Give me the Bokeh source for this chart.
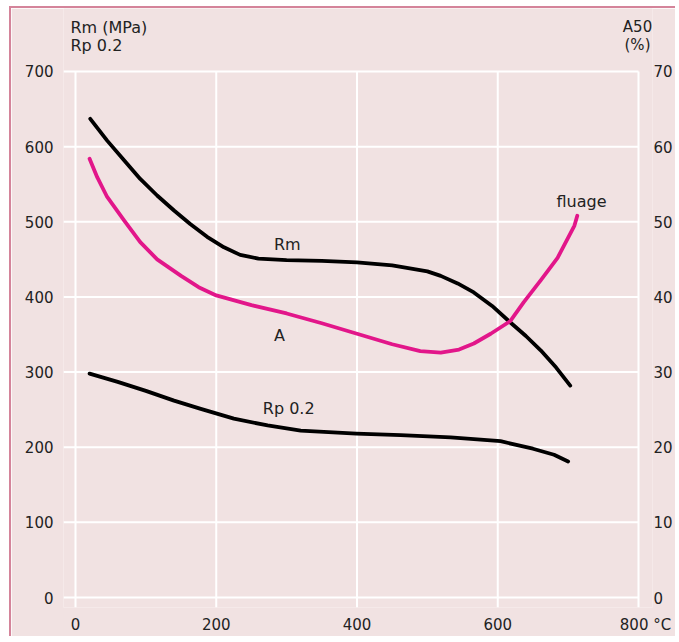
from bokeh.plotting import figure
from bokeh.models import Range1d, LinearAxis, ColumnDataSource, FixedTicker
from bokeh.core.properties import value
from bokeh.embed import file_html
from bokeh.resources import INLINE

# ---- data ----
rm_temp = [21, 45, 69, 92, 116, 140, 163, 187, 211, 234, 260, 300, 350, 400, 450, 500, 519, 543,
           566, 592, 618, 640, 661, 683, 703]
rm_mpa = [637, 608, 582, 557, 535, 515, 497, 480, 466, 456, 451, 449, 448, 446, 442, 434, 428, 418,
          406, 388, 366, 348, 329, 306, 282]

rp_temp = [20, 60, 100, 140, 178, 225, 273, 320, 399, 462, 533, 604, 650, 680, 700]
rp_mpa = [298, 287, 275, 262, 251, 238, 229, 222, 218, 216, 213, 208, 198, 190, 181]

a_temp = [20, 31, 45, 69, 92, 116, 150, 175, 200, 250, 300, 350, 400, 450, 490, 519, 545, 566,
          590, 618, 637, 661, 685, 709, 713]
a_pct = [58.4, 55.9, 53.3, 50.2, 47.3, 45.0, 42.8, 41.3, 40.2, 38.9, 37.8, 36.5, 35.1, 33.7, 32.8,
         32.6, 33.0, 33.8, 35.1, 36.8, 39.3, 42.2, 45.2, 49.5, 50.8]

x_ticks = [0, 200, 400, 600, 800]
x_tick_labels = ["0", "200", "400", "600", "800 °C"]
left_ticks = [0, 100, 200, 300, 400, 500, 600, 700]
right_ticks = [0, 10, 20, 30, 40, 50, 60, 70]

curve_label_text = ["Rm", "A", "Rp 0.2", "fluage"]
curve_label_x = [301, 290, 303, 719]
curve_label_y = [470, 349, 251, 527]

left_title_lines = ["Rm (MPa)", "Rp 0.2"]
right_title_lines = ["A50", "(%)"]

# ---- layout / styling ----
BG = "#f1e2e2"
FONT = "DejaVu Sans"
MAGENTA = "#e2168a"
TXT = "#222222"

PX_X = 0.70375   # px per °C
PX_Y = 0.75143   # px per MPa

X0, X1 = -12 / PX_X, 800 + 14 / PX_X
Y0, Y1 = -10 / PX_Y, 700 + 63 / PX_Y

p = figure(frame_width=589, frame_height=599, output_backend="svg", toolbar_location=None,
           x_range=Range1d(X0, X1), y_range=Range1d(Y0, Y1),
           min_border_left=52, min_border_right=19, min_border_top=0, min_border_bottom=20)
p.extra_y_ranges = {"A": Range1d(Y0 / 10.0, Y1 / 10.0)}

p.background_fill_color = BG
p.border_fill_color = BG
p.outline_line_color = None
p.xgrid.visible = False
p.ygrid.visible = False
p.styles = {"margin-left": "9px", "margin-top": "6px",
            "border-left": "2px solid #d4849a", "border-top": "2px solid #d4849a"}

def style_axis(ax, standoff):
    ax.axis_line_color = None
    ax.major_tick_line_color = None
    ax.minor_tick_line_color = None
    ax.major_tick_out = 0
    ax.major_tick_in = 0
    ax.minor_tick_out = 0
    ax.minor_tick_in = 0
    ax.major_label_text_font = FONT
    ax.major_label_text_font_size = "15px"
    ax.major_label_text_color = TXT
    ax.major_label_standoff = standoff

# x axis: the last label carries the unit and sits a little to the right of its gridline
label_shift = 7 / PX_X
x_label_pos = x_ticks[:-1] + [x_ticks[-1] + label_shift]
p.xaxis[0].ticker = FixedTicker(ticks=x_label_pos)
p.xaxis[0].major_label_overrides = {pos: lab for pos, lab in zip(x_label_pos, x_tick_labels)}
style_axis(p.xaxis[0], 8)

p.yaxis[0].ticker = FixedTicker(ticks=left_ticks)
style_axis(p.yaxis[0], 10)

ax_r = LinearAxis(y_range_name="A", ticker=FixedTicker(ticks=right_ticks))
style_axis(ax_r, 1)
p.add_layout(ax_r, "right")

# gridlines (white)
p.segment(x0=[X0] * len(left_ticks), x1=[x_ticks[-1]] * len(left_ticks), y0=left_ticks, y1=left_ticks,
          line_color="white", line_width=2)
p.segment(x0=x_ticks, x1=x_ticks, y0=[Y0] * len(x_ticks), y1=[left_ticks[-1]] * len(x_ticks),
          line_color="white", line_width=2)

# curves
p.line(rm_temp, rm_mpa, line_color="black", line_width=3.8, line_cap="round", line_join="round")
p.line(rp_temp, rp_mpa, line_color="black", line_width=3.8, line_cap="round", line_join="round")
p.line(a_temp, a_pct, y_range_name="A", line_color=MAGENTA, line_width=3.8,
       line_cap="round", line_join="round")

# curve labels
src = ColumnDataSource(dict(x=curve_label_x, y=curve_label_y, t=curve_label_text))
p.text(x="x", y="y", text="t", source=src, text_font=value(FONT), text_font_size="16px",
       text_color=TXT, text_align="center", text_baseline="middle")

# axis titles (top-left and top-right corners)
title_y = [700 + 44 / PX_Y, 700 + 26 / PX_Y]
p.text(x=[-5 / PX_X] * 2, y=title_y, text=left_title_lines, text_font=value(FONT),
       text_font_size="16px", text_color=TXT, text_align="left", text_baseline="middle")
p.text(x=[800 - 1 / PX_X] * 2, y=title_y, text=right_title_lines, text_font=value(FONT),
       text_font_size="15px", text_color=TXT, text_align="center", text_baseline="middle")

open("out.html", "w").write(file_html(p, INLINE))
